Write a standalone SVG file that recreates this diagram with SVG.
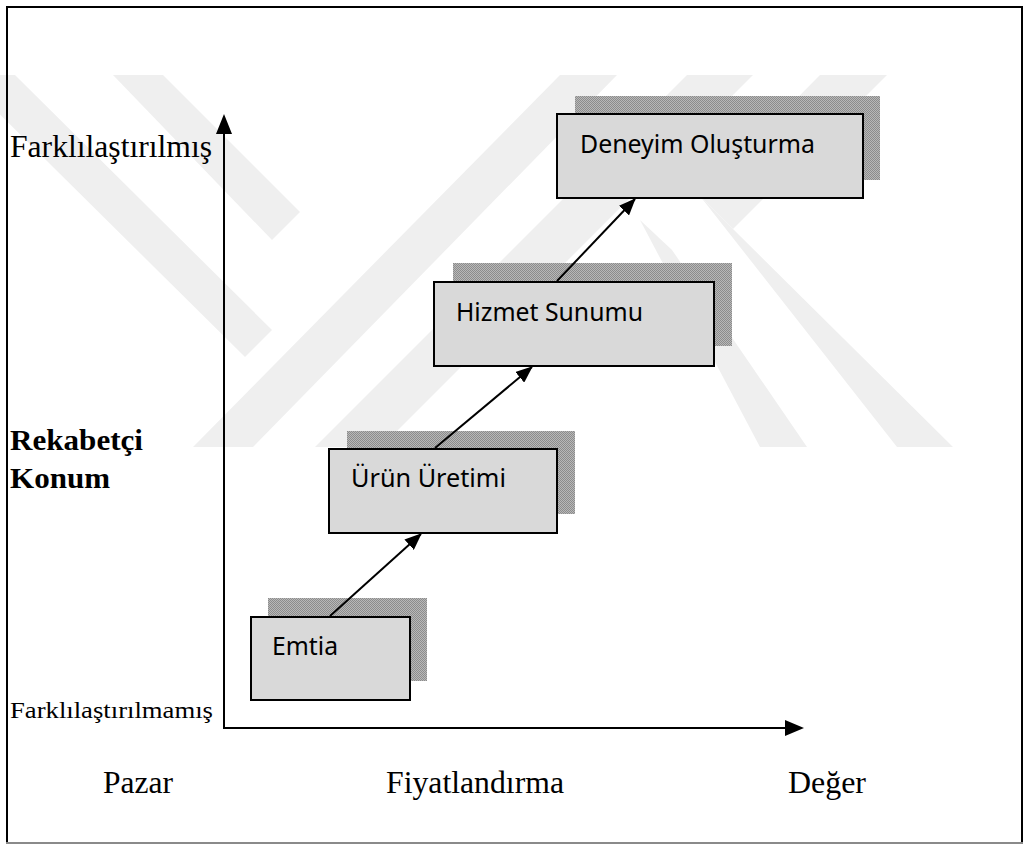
<svg xmlns="http://www.w3.org/2000/svg" width="1026" height="846" viewBox="0 0 1026 846">
<defs>
<style>
.box{fill:#d9d9d9;stroke:#000;stroke-width:2}
.shadow{fill:url(#dots)}
.bt{font-family:"Noto Sans","Open Sans",sans-serif;font-size:25px;fill:#000}
.tr{font-family:"Liberation Serif","Times New Roman",serif;fill:#000}
.ln{stroke:#000;stroke-width:2;fill:none}
.wm{fill:#efefef}
</style>
<pattern id="dots" width="2" height="2" patternUnits="userSpaceOnUse">
<rect width="2" height="2" fill="#b8b8b8"/>
<rect width="1" height="1" fill="#8c8c8c"/>
<rect x="1" y="1" width="1" height="1" fill="#8c8c8c"/>
</pattern>
<marker id="ah" markerWidth="17" markerHeight="14" refX="16" refY="7" orient="auto" markerUnits="userSpaceOnUse" viewBox="0 0 17 14">
<path d="M0,0 L17,7 L0,14 Z" fill="#000"/>
</marker>
</defs>
<rect width="1026" height="846" fill="#fff"/>
<g id="watermark">
<polygon class="wm" points="560,75 617,75 253,447 193,447"/>
<polygon class="wm" points="687,75 753,75 381,447 315,447"/>
<polygon class="wm" points="820,75 887,75 733,229 700,196"/>
<polygon class="wm" points="700,196 733,229 953,447 897,447"/>
<polygon class="wm" points="640,220 672,250 807,447 760,447"/>
<polygon class="wm" points="113,75 163,75 300,212 272,240"/>
<polygon class="wm" points="-40,75 15,75 272,330 245,357"/>
</g>
<rect x="7" y="7" width="1015" height="836" fill="none" stroke="#000" stroke-width="2"/>
<line x1="6" y1="843" x2="1023" y2="843" stroke="#8a8a8a" stroke-width="2"/>
<g id="axes">
<line class="ln" x1="224" y1="729" x2="224" y2="132"/>
<polygon points="224,114 216,134 232,134" fill="#000"/>
<line class="ln" x1="223" y1="728" x2="786" y2="728"/>
<polygon points="804,728 785,720 785,736" fill="#000"/>
</g>
<g id="axis-labels">
<text class="tr" x="10" y="157" font-size="32" textLength="202" lengthAdjust="spacingAndGlyphs">Farklılaştırılmış</text>
<text class="tr" x="10" y="718" font-size="24" textLength="203" lengthAdjust="spacingAndGlyphs">Farklılaştırılmamış</text>
<text class="tr" x="10" y="450" font-size="30" font-weight="bold" textLength="133" lengthAdjust="spacingAndGlyphs">Rekabetçi</text>
<text class="tr" x="10" y="488" font-size="30" font-weight="bold" textLength="100" lengthAdjust="spacingAndGlyphs">Konum</text>
<text class="tr" x="103" y="793" font-size="32" textLength="70" lengthAdjust="spacingAndGlyphs">Pazar</text>
<text class="tr" x="386" y="793" font-size="32" textLength="178" lengthAdjust="spacingAndGlyphs">Fiyatlandırma</text>
<text class="tr" x="788" y="793" font-size="32" textLength="78" lengthAdjust="spacingAndGlyphs">Değer</text>
</g>
<g id="node-emtia">
<rect class="shadow" x="268" y="598" width="159" height="83"/>
<rect class="box" x="251" y="617" width="159" height="83"/>
<text class="bt" x="272" y="655" textLength="66" lengthAdjust="spacingAndGlyphs">Emtia</text>
</g>
<g id="node-urun">
<rect class="shadow" x="347" y="431" width="228" height="83"/>
<rect class="box" x="329" y="449" width="228" height="84"/>
<text class="bt" x="351" y="487" textLength="155" lengthAdjust="spacingAndGlyphs">Ürün Üretimi</text>
</g>
<g id="node-hizmet">
<rect class="shadow" x="453" y="263" width="279" height="83"/>
<rect class="box" x="434" y="282" width="280" height="84"/>
<text class="bt" x="456" y="321" textLength="187" lengthAdjust="spacingAndGlyphs">Hizmet Sunumu</text>
</g>
<g id="node-deneyim">
<rect class="shadow" x="575" y="96" width="305" height="84"/>
<rect class="box" x="557" y="114" width="306" height="84"/>
<text class="bt" x="580" y="153" textLength="235" lengthAdjust="spacingAndGlyphs">Deneyim Oluşturma</text>
</g>
<g id="connectors">
<line class="ln" x1="330" y1="616" x2="421" y2="534" marker-end="url(#ah)"/>
<line class="ln" x1="435" y1="448" x2="532" y2="367" marker-end="url(#ah)"/>
<line class="ln" x1="557" y1="281" x2="635" y2="199" marker-end="url(#ah)"/>
</g>
</svg>
